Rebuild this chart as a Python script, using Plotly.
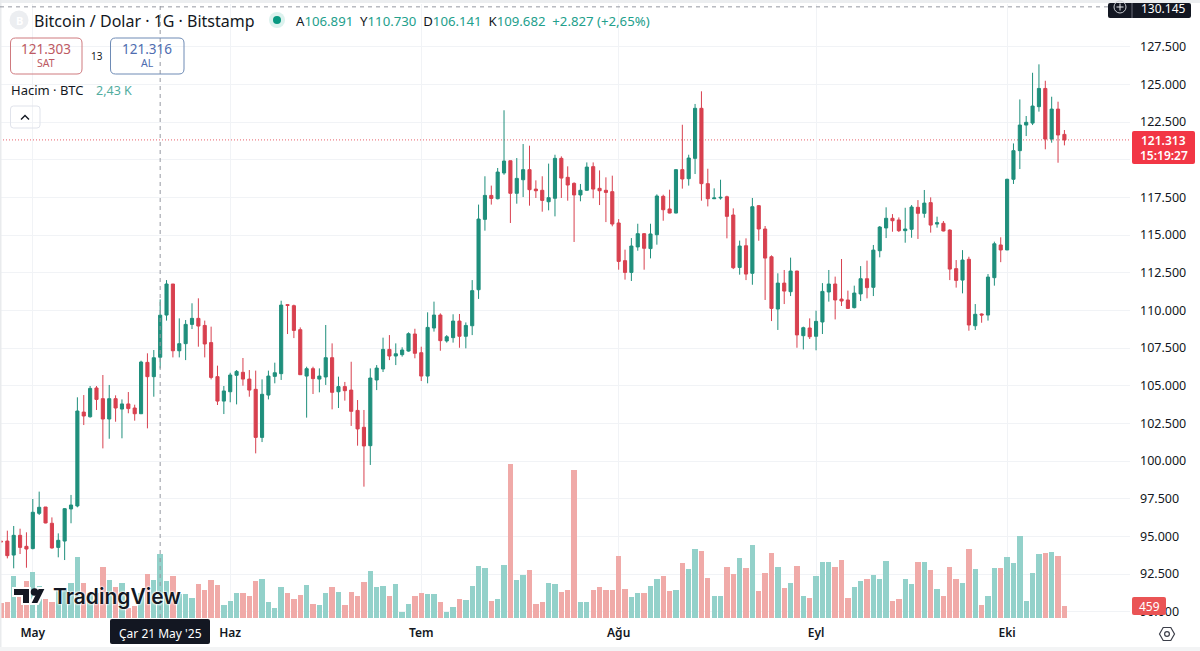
import pandas as pd
import plotly.graph_objects as go

# Daily BTC/USD candles with traded volume (Bitstamp, 1D)
first_day = "2025-04-26"
opens = [
    94680,
    94690, 93760, 95070, 94340, 94190, 96530, 96950, 95870, 94270, 94690,
    96820, 97020, 103250, 102940, 104850, 104140, 102790, 104140, 103450, 103790,
    103520, 103140, 106550, 105600, 106891, 109690, 111750, 107320, 107790, 109070,
    109470, 109000, 107860, 105600, 103980, 104600, 105690, 105890, 105440, 104760,
    101570, 104380, 105620, 105800, 110380, 110310, 108720, 105640, 106130, 105440,
    105580, 106860, 104600, 104940, 104710, 103360, 102240, 101020, 105380, 106110,
    107410, 106970, 107060, 107300, 108430, 107190, 105640, 108830, 109690, 107970,
    108190, 109290, 108280, 108980, 111370, 116040, 117630, 117410, 119120, 119930,
    117770, 118670, 119340, 118050, 117970, 117210, 117440, 120090, 118830, 118430,
    117660, 117970, 119540, 118100, 117970, 117880, 115800, 113300, 112520, 114210,
    115090, 114100, 115020, 117570, 116730, 116460, 119340, 118740, 120090, 123410,
    118410, 117410, 117460, 117540, 116330, 112850, 114290, 112460, 116950, 115400,
    113560, 110090, 111810, 111240, 112610, 108320, 108830, 108280, 109230, 111220,
    111750, 110750, 110690, 110180, 111090, 112100, 111530, 113960, 115470, 116110,
    116000, 115290, 115380, 116840, 116440, 117150, 115730, 115780, 115330, 112770,
    112010, 113390, 108980, 109760, 109690, 112170, 114340, 114010, 118700, 120600,
    122300, 122430, 123520, 124730, 121370, 123360, 121680,
]
highs = [
    94720,
    95380, 95690, 95510, 95270, 97480, 97970, 96950, 96260, 95200, 96880,
    97750, 104230, 104380, 104980, 104980, 105710, 105050, 104360, 104090, 104580,
    103740, 106660, 107150, 107370, 110730, 112010, 111750, 109470, 109360, 110470,
    110800, 109320, 108920, 106330, 104980, 105860, 106040, 106840, 106040, 106000,
    105420, 106000, 106530, 110640, 110400, 110380, 108870, 106260, 106260, 106150,
    109030, 107810, 105600, 105250, 106590, 104050, 103390, 106150, 106370, 108190,
    108360, 107810, 107550, 108540, 108780, 107590, 109870, 110580, 109800, 108360,
    109740, 109760, 109200, 112010, 117020, 118900, 118280, 119450, 123280, 119940,
    120110, 121040, 120930, 118630, 118900, 119740, 120330, 120220, 119560, 118500,
    118390, 119820, 119820, 119290, 118830, 118940, 116060, 114030, 114800, 115750,
    115130, 115750, 117700, 117680, 118010, 119360, 122320, 120330, 123700, 124540,
    119400, 118100, 118670, 117610, 116770, 114630, 114780, 117460, 116990, 115600,
    113650, 112460, 112680, 113500, 112630, 108920, 109470, 109980, 111810, 112680,
    112240, 113410, 111310, 111640, 112940, 113300, 114340, 115600, 116840, 116390,
    116170, 116810, 116990, 117320, 117990, 117500, 116220, 115930, 115380, 113340,
    114000, 113560, 110420, 109800, 112410, 114560, 114850, 118740, 121080, 124000,
    122900, 125770, 126330, 125240, 124180, 123850, 121970,
]
lows = [
    94600,
    93540, 92880, 93830, 92920, 94140, 96420, 95870, 94190, 93610, 93430,
    95870, 96930, 102390, 102880, 103390, 100840, 101480, 102610, 101510, 103170,
    102680, 103120, 102170, 104270, 106141, 109320, 106880, 106880, 106700, 108760,
    107590, 106880, 105420, 103720, 103120, 103900, 103760, 105000, 104270, 100510,
    101260, 104090, 105160, 105380, 108430, 108160, 105710, 102880, 104450, 104560,
    105050, 103430, 103520, 104010, 102330, 101020, 98300, 99740, 104710, 105910,
    106700, 106370, 106930, 107260, 106820, 105310, 105160, 108590, 107320, 107860,
    107860, 107520, 107480, 108360, 110760, 115290, 117020, 117370, 119000, 115800,
    117080, 117520, 116950, 117460, 116550, 116640, 116240, 117460, 117280, 114540,
    117240, 117940, 117440, 116990, 115860, 115580, 112700, 112040, 111950, 113960,
    112700, 113450, 114360, 115950, 116440, 116440, 118080, 118280, 119050, 117280,
    116900, 117390, 117350, 114780, 112740, 112370, 112010, 111700, 114620, 110690,
    109290, 108700, 110420, 110950, 107520, 107410, 108100, 107350, 108430, 110580,
    109400, 110290, 110110, 110130, 110620, 110800, 110950, 113520, 114800, 115220,
    115200, 114490, 114820, 114740, 116150, 115160, 115490, 115240, 112010, 111510,
    111130, 108650, 108700, 109180, 109320, 111640, 113200, 114000, 118390, 119380,
    121570, 122300, 123190, 120690, 121130, 119800, 120950,
]
closes = [
    94640,
    93720, 95070, 94270, 94160, 96600, 96930, 95890, 94230, 94740, 96840,
    97080, 103320, 102990, 104820, 104090, 102790, 104140, 103520, 103790, 103480,
    103140, 106570, 105600, 106855, 109682, 111750, 107320, 107790, 109070, 109470,
    108960, 107770, 105550, 103980, 104650, 105710, 105950, 105440, 104710, 101570,
    104430, 105640, 105860, 110350, 110330, 108670, 105730, 106130, 105470, 105640,
    106860, 104560, 104940, 104670, 103300, 102130, 101000, 105510, 106170, 107410,
    106970, 107120, 107370, 108450, 107150, 105640, 108870, 109690, 107990, 108250,
    109290, 108280, 109000, 111310, 116060, 117630, 117430, 119180, 119910, 117770,
    118760, 119340, 118010, 117940, 117300, 117480, 120090, 118780, 118320, 117660,
    117970, 119510, 118050, 117940, 117830, 115730, 113250, 112520, 114270, 115090,
    114120, 115070, 117590, 116680, 116460, 119340, 118720, 120110, 123410, 118410,
    117410, 117460, 117500, 116240, 112830, 114270, 112410, 116880, 115400, 113470,
    110130, 111810, 111280, 112610, 108370, 108850, 108250, 109270, 111260, 111750,
    110690, 110620, 110130, 111150, 112100, 111510, 114000, 115530, 116110, 115950,
    115290, 115400, 116860, 116440, 117120, 115660, 115820, 115270, 112740, 111990,
    113340, 109030, 109740, 109690, 112210, 114420, 114010, 118700, 120600, 122300,
    122480, 123560, 124730, 121370, 123360, 121640, 121313,
]
volumes = [
    560,
    592, 1600, 1096, 1411, 1751, 1197, 718, 592, 1134, 1134,
    1323, 2306, 1336, 945, 945, 1915, 1424, 1172, 1323, 378,
    441, 945, 1676, 1449, 2430, 1411, 1600, 920, 920, 769,
    1298, 1058, 1424, 1247, 491, 655, 945, 945, 819, 1399,
    1487, 617, 365, 1172, 945, 718, 882, 1260, 542, 504,
    945, 1172, 983, 504, 983, 819, 1373, 1777, 1172, 1197,
    819, 1298, 239, 529, 819, 945, 920, 920, 617, 239,
    428, 731, 693, 1197, 1978, 1877, 655, 718, 2003, 5809,
    1449, 1625, 1827, 529, 617, 1323, 1298, 983, 1071, 5607,
    617, 592, 1071, 1172, 1046, 1046, 2331, 1109, 794, 945,
    945, 1197, 1462, 1588, 1008, 1046, 2066, 1852, 2621, 2545,
    1499, 819, 844, 1940, 1676, 2268, 1890, 2747, 1008, 1714,
    2470, 1915, 1134, 1323, 1966, 819, 756, 1600, 2104, 2104,
    1940, 2205, 756, 1172, 1399, 1462, 1625, 1487, 2167, 655,
    731, 1487, 1273, 2129, 2104, 1814, 1109, 819, 1940, 1462,
    1336, 2621, 1852, 504, 819, 1890, 1890, 2306, 2079, 3112,
    655, 1688, 2432, 2457, 2495, 2331, 459,
]
price_ticks = list(range(90000, 130000, 2500))
# The 120.000 label sits under the live price tag, so it is left blank
price_labels = ["" if p == 120000 else f"{p // 1000}.{p % 1000:03d}" for p in price_ticks]
month_ticks = ["2025-05-01", "2025-06-01", "2025-07-01", "2025-08-01", "2025-09-01", "2025-10-01"]
month_labels = ["May", "Haz", "Tem", "Ağu", "Eyl", "Eki"]
hover_day = "2025-05-21"
hover_price = 130145
last_price = 121313

UP = "#1f8f7c"
DOWN = "#d8404f"
UP_VOL = "#93d1ca"
DOWN_VOL = "#f0aaa8"
INK = "#131722"
GRID = "#f1f3f6"
FONT = "Noto Sans"

W, H = 1200, 651
L_M, R_M, T_M, B_M = 0, 70, 4, 33
PW, PH = W - L_M - R_M, H - T_M - B_M

dates = pd.date_range(first_day, periods=len(opens), freq="D")


def px(x):
    return x / PW


def py(y):
    return 1 - (y - T_M) / PH


def rrect(x0, y0, x1, y1, r):
    """Rounded rectangle path, given in page pixels."""
    pts = [
        f"M{px(x0 + r)},{py(y0)}", f"L{px(x1 - r)},{py(y0)}", f"Q{px(x1)},{py(y0)} {px(x1)},{py(y0 + r)}",
        f"L{px(x1)},{py(y1 - r)}", f"Q{px(x1)},{py(y1)} {px(x1 - r)},{py(y1)}",
        f"L{px(x0 + r)},{py(y1)}", f"Q{px(x0)},{py(y1)} {px(x0)},{py(y1 - r)}",
        f"L{px(x0)},{py(y0 + r)}", f"Q{px(x0)},{py(y0)} {px(x0 + r)},{py(y0)}", "Z",
    ]
    return " ".join(pts)


def poly(points):
    return "M" + " L".join(f"{px(x)},{py(y)}" for x, y in points)


fig = go.Figure()

fig.add_trace(go.Bar(
    x=dates, y=volumes, yaxis="y2", width=0.84 * 86400000,
    marker=dict(color=[UP_VOL if c >= o else DOWN_VOL for o, c in zip(opens, closes)], line=dict(width=0)),
    hoverinfo="skip",
))
fig.add_trace(go.Candlestick(
    x=dates, open=opens, high=highs, low=lows, close=closes, yaxis="y", whiskerwidth=0,
    increasing=dict(line=dict(color=UP, width=1), fillcolor=UP),
    decreasing=dict(line=dict(color=DOWN, width=1), fillcolor=DOWN),
    hoverinfo="skip",
))

shapes = []


def box(x0, y0, x1, y1, r=0, fill=None, line=None, lw=1):
    shapes.append(dict(
        type="path", xref="paper", yref="paper", path=rrect(x0, y0, x1, y1, r),
        fillcolor=fill or "rgba(0,0,0,0)", line=dict(color=line or "rgba(0,0,0,0)", width=lw if line else 0),
    ))


def circle(cx, cy, r, fill=None, line=None, lw=1):
    shapes.append(dict(
        type="circle", xref="paper", yref="paper", x0=px(cx - r), x1=px(cx + r), y0=py(cy + r), y1=py(cy - r),
        fillcolor=fill or "rgba(0,0,0,0)", line=dict(color=line or "rgba(0,0,0,0)", width=lw if line else 0),
    ))


def stroke(points, color, lw=1, fill=None, close=False):
    path = poly(points) + (" Z" if close else "")
    shapes.append(dict(
        type="path", xref="paper", yref="paper", path=path,
        fillcolor=fill or "rgba(0,0,0,0)", line=dict(color=color, width=lw),
    ))


# Page edges
box(0, 0, W, 3, fill="#eceef0")
box(0, 0, 1.5, H, fill="#e9ebed")
box(0, 647, W, H, fill="#f3f4f5")

# Last price and crosshair
shapes.append(dict(type="line", xref="paper", yref="y", x0=0, x1=1, y0=last_price, y1=last_price,
                   line=dict(color="#e8616b", width=1, dash="1px,2px"), layer="below"))
shapes.append(dict(type="line", xref="x", yref="paper", x0=hover_day, x1=hover_day, y0=0, y1=1,
                   line=dict(color="#9598a1", width=1, dash="4px,4px")))
shapes.append(dict(type="line", xref="paper", yref="y", x0=0, x1=1, y0=hover_price, y1=hover_price,
                   line=dict(color="#9598a1", width=1, dash="4px,4px")))

# Right-hand price tags
box(1108, 3, 1191, 18, r=2, fill=INK)
box(1131.5, 3, 1132.5, 18, fill="#6a6d78")
circle(1120, 7, 6, line="#c9cbd1")
stroke([(1116.5, 7), (1123.5, 7)], "#e6e7ea")
stroke([(1120, 3.5), (1120, 10.5)], "#e6e7ea")
box(1132, 131, 1195, 164, r=2, fill="#f23645")
box(1132, 597, 1166, 615, r=2, fill="#ea5455")

# Crosshair date tag
box(110, 619, 210, 644, r=2, fill=INK)

# Order buttons and collapse control
box(10.5, 38, 82, 74, r=5, line="#cf7a7f")
box(110.5, 38, 184, 74, r=5, line="#6e8bb5")
box(10.5, 106, 40, 128, r=3, line="#e0e3eb")
stroke([(21, 119.5), (25, 115.5), (29, 119.5)], INK, lw=1.4)

# Symbol badge and market status dot
circle(19, 20, 9.5, fill="#eceef1")
circle(277, 20, 8, fill="#dcf2ee")
circle(277, 20, 4, fill="#089981")

# Settings icon
stroke([(1159.5, 634), (1163.2, 627.5), (1170.8, 627.5), (1174.5, 634), (1170.8, 640.5), (1163.2, 640.5)],
       "#3c3f4a", lw=1.2, close=True)
circle(1167, 634, 2.4, line="#3c3f4a", lw=1.2)

# Watermark icon
halo = "#ffffff"
stroke([(13, 588), (30, 588), (30, 604), (22, 604), (22, 596), (13, 596)], halo, lw=2, fill=INK, close=True)
stroke([(38, 588), (46, 588), (38, 604), (30, 604)], halo, lw=2, fill=INK, close=True)
circle(34.5, 592, 3.8, fill=INK)

fig.update_layout(shapes=shapes)


def label(x, y, text, size=13, color=INK, anchor="left", **font):
    fig.add_annotation(
        x=px(x), y=py(y), xref="paper", yref="paper", xanchor=anchor, yanchor="middle",
        text=text, showarrow=False, align="left", borderpad=0,
        font=dict(family=FONT, size=size, color=color, **font),
    )


GREEN_TXT = "#22a08c"
label(19, 20, "B", size=11, color="#ffffff", anchor="center", weight=700)
label(33, 20.5, "Bitcoin / Dolar · 1G · Bitstamp", size=16)
label(295, 20.5,
      f"A<span style='color:{GREEN_TXT}'>106.891</span>  Y<span style='color:{GREEN_TXT}'>110.730</span>  "
      f"D<span style='color:{GREEN_TXT}'>106.141</span>  K<span style='color:{GREEN_TXT}'>109.682</span>  "
      f"<span style='color:{GREEN_TXT}'>+2.827 (+2,65%)</span>", size=13.2)
label(46, 48.5, "121.303", size=13.5, color="#bd5a63", anchor="center")
label(46, 63, "SAT", size=10.5, color="#bd5a63", anchor="center")
label(147, 48.5, "121.316", size=13.5, color="#4f6db0", anchor="center")
label(147, 63, "AL", size=10.5, color="#4f6db0", anchor="center")
label(97, 55.5, "13", size=10, anchor="center")
label(10, 90.5, "Hacim · BTC", size=13)
label(95, 90.5, "2,43 K", size=12.5, color="#52ad9f")
label(1163.5, 8, "130.145", size=12, color="#ffffff", anchor="center")
label(1163.5, 140, "121.313", size=12, color="#ffffff", anchor="center", weight=600)
label(1163.5, 155, "15:19:27", size=12, color="#ffffff", anchor="center", weight=600)
label(1149, 606, "459", size=12, color="#ffffff", anchor="center")
label(160, 633, "Çar 21 May '25", size=12, color="#ffffff", anchor="center")
fig.add_annotation(
    x=px(51.5), y=py(596), xref="paper", yref="paper", xanchor="left", yanchor="middle",
    text="TradingView", showarrow=False, borderpad=0,
    font=dict(family="Inter", size=21, color=INK, weight=600,
              shadow="0 0 2px #fff, 0 0 2px #fff, 0 0 3px #fff"),
)

fig.update_layout(
    width=W, height=H, margin=dict(l=L_M, r=R_M, t=T_M, b=B_M, autoexpand=False),
    paper_bgcolor="#ffffff", plot_bgcolor="#ffffff", showlegend=False, hovermode=False,
    bargap=0, dragmode=False,
    xaxis=dict(
        type="date", range=["2025-04-25 20:21", "2025-10-20 07:12"], rangeslider=dict(visible=False),
        tickmode="array", tickvals=month_ticks, ticktext=month_labels, ticks="", ticklabelstandoff=6,
        showgrid=True, gridcolor=GRID, gridwidth=1, showline=False, zeroline=False,
        tickfont=dict(family=FONT, size=12, color=INK, weight=600),
    ),
    yaxis=dict(
        side="right", range=[89583, 130334], tickmode="array", tickvals=price_ticks, ticktext=price_labels,
        ticks="", ticklabelstandoff=9, ticklabeloverflow="allow", showgrid=True, gridcolor=GRID, gridwidth=1,
        showline=False, zeroline=False, tickfont=dict(family=FONT, size=12.5, color=INK),
    ),
    yaxis2=dict(overlaying="y", range=[0, 23209], visible=False, showgrid=False),
)

fig.write_html("out.html", config=dict(displayModeBar=False))
